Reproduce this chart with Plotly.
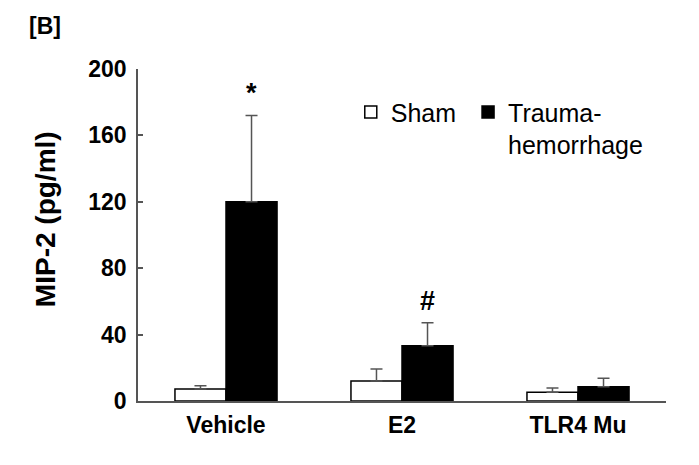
import plotly.graph_objects as go

grupos = ["Vehicle", "E2", "TLR4 Mu"]
sham = [7.2, 12.0, 5.2]
sham_err = [2.0, 7.3, 2.6]
trauma = [120.0, 33.3, 8.6]
trauma_err = [52.0, 13.9, 5.1]
marcas = ["*", "#", ""]

fuente = "Arial, Liberation Sans, sans-serif"
gris = "#555555"

fig = go.Figure()
fig.add_trace(go.Bar(
    x=grupos, y=sham, name="Sham&nbsp;",
    marker=dict(color="white", line=dict(color="black", width=1.5)),
    error_y=dict(type="data", array=sham_err, arrayminus=[0] * 3, symmetric=False,
                 color=gris, thickness=1.5, width=6),
))
fig.add_trace(go.Bar(
    x=grupos, y=trauma, name="Trauma-<br>hemorrhage",
    marker=dict(color="black", line=dict(color="black", width=1.5)),
    error_y=dict(type="data", array=trauma_err, arrayminus=[0] * 3, symmetric=False,
                 color=gris, thickness=1.5, width=6),
))

# marcas de significancia sobre las barras de trauma
for i, m in enumerate(marcas):
    if m:
        fig.add_annotation(x=i + 0.145, y=trauma[i] + trauma_err[i], text=m,
                           showarrow=False, yanchor="bottom", yshift=5,
                           font=dict(family=fuente, size=27, color="black", weight="bold"))

fig.add_annotation(xref="paper", yref="paper", x=-0.176, y=1.13, text="[B]",
                   showarrow=False, xanchor="center", yanchor="middle",
                   font=dict(family=fuente, size=23, color="black", weight="bold"))

# titulo del eje y como anotacion para ubicarlo igual que el original
fig.add_annotation(xref="paper", yref="paper", x=-0.176, y=0.548, text="MIP-2 (pg/ml)",
                   textangle=-90, showarrow=False, xanchor="center", yanchor="middle",
                   font=dict(family=fuente, size=28, color="black", weight="bold"))

# la pagina deja 8 px de margen en el body: el lienzo se achica para caber en la ventana
fig.update_layout(
    width=691, height=457,
    margin=dict(l=130, r=33, t=61, b=64),
    plot_bgcolor="white", paper_bgcolor="white",
    barmode="group", bargap=0.42, bargroupgap=0,
    font=dict(family=fuente, color="black"),
    legend=dict(orientation="h", x=0.403, y=0.939, xanchor="left", yanchor="top",
                valign="top", bgcolor="rgba(0,0,0,0)",
                font=dict(family=fuente, size=25, color="black")),
)
fig.update_xaxes(
    range=[-0.5, 2.5], showline=True, linecolor=gris, linewidth=1.5,
    ticks="", ticklabelstandoff=3, automargin=False,
    tickfont=dict(family=fuente, size=23, color="black", weight="bold"),
)
fig.update_yaxes(
    range=[0, 200], tickvals=[0, 40, 80, 120, 160, 200], showgrid=False, zeroline=False,
    showline=True, linecolor=gris, linewidth=1.5, automargin=False,
    ticks="inside", ticklen=5, tickcolor=gris, tickwidth=1.5, ticklabelstandoff=5,
    tickfont=dict(family=fuente, size=23, color="black", weight="bold"),
)

fig.write_html("out.html")
